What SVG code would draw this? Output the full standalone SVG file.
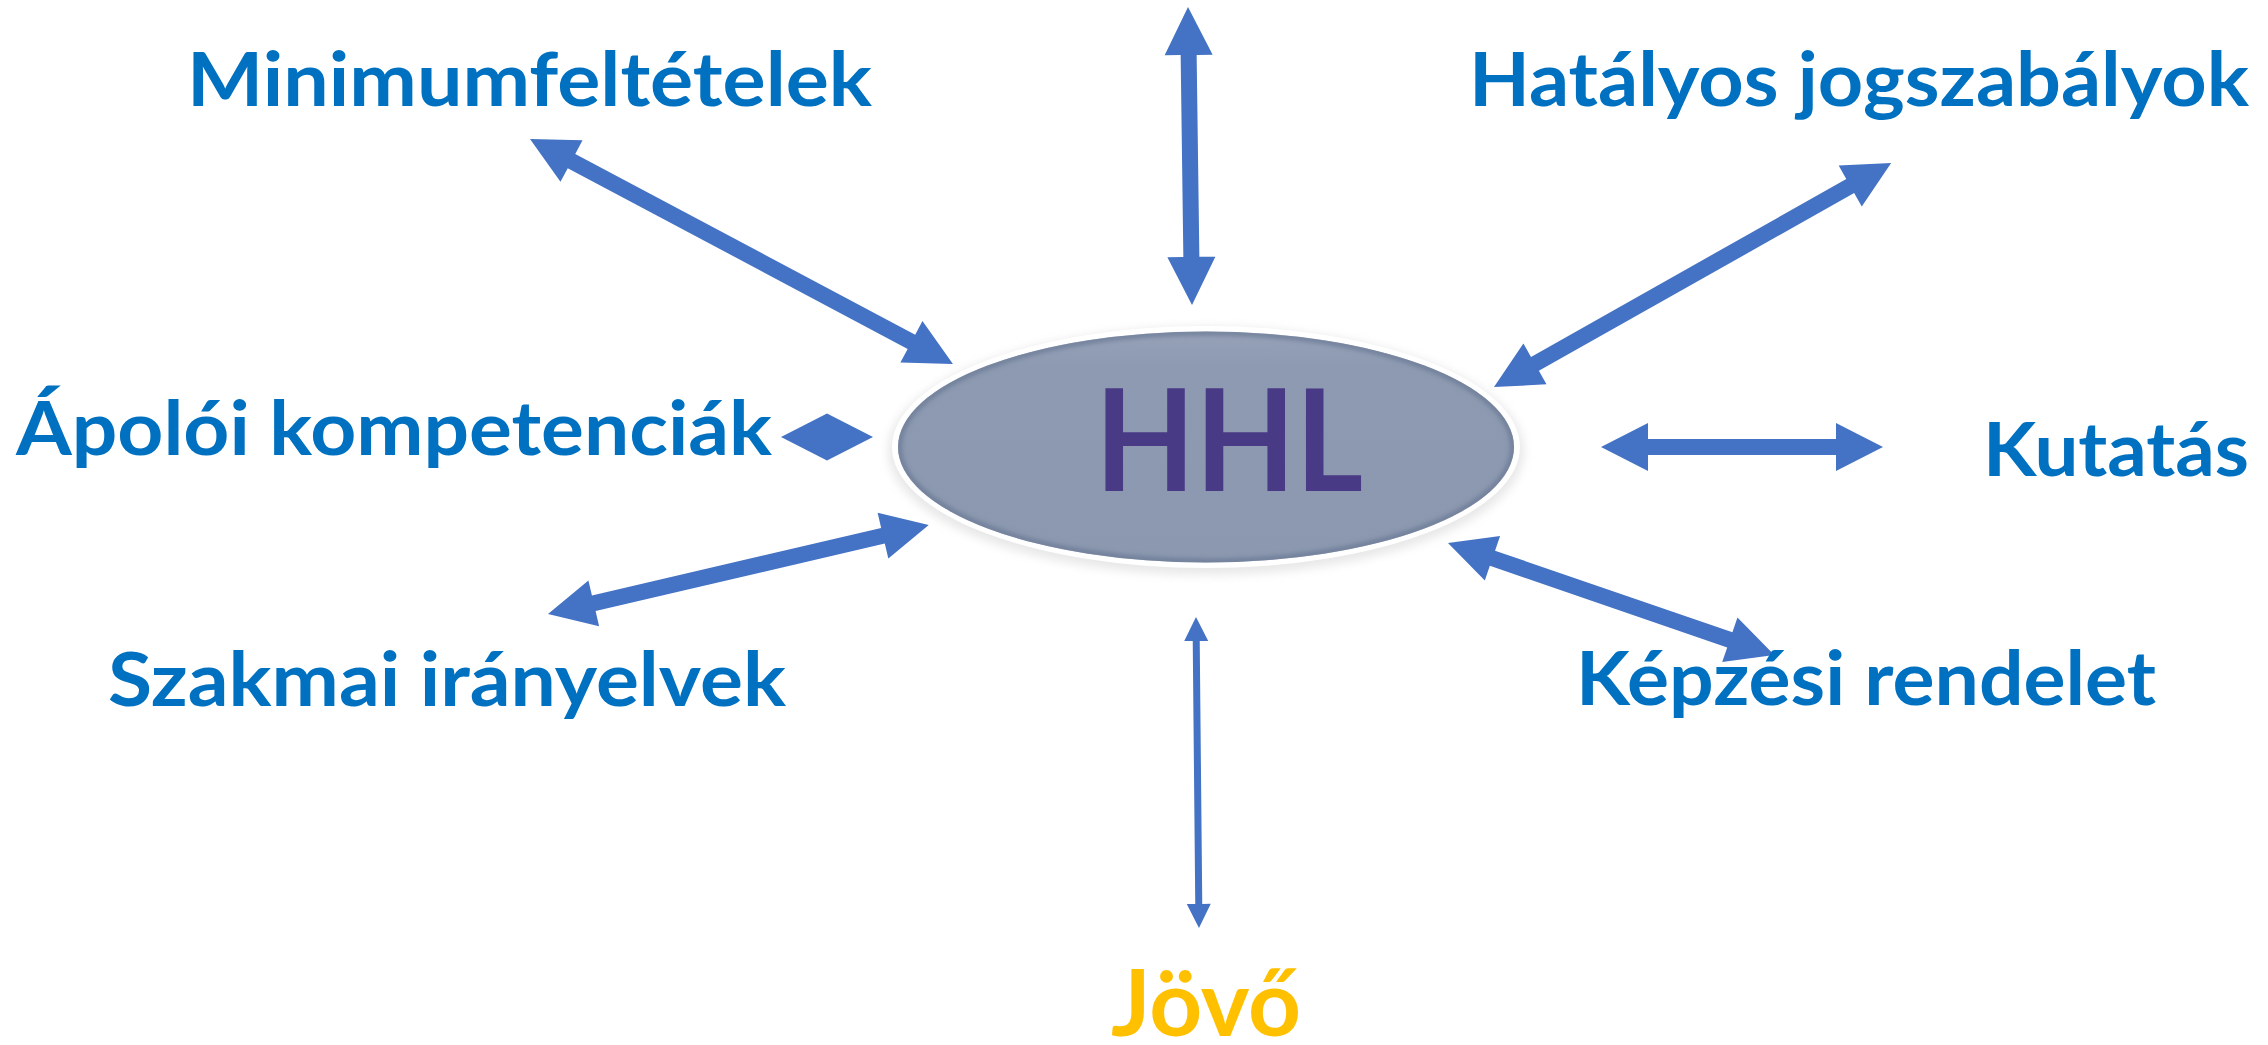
<svg xmlns="http://www.w3.org/2000/svg" width="2268" height="1045" viewBox="0 0 2268 1045">
  <style>
    .lbl { font-family: "Lato", "Liberation Sans", sans-serif; font-weight: bold; font-size: 74px; fill: #0070c0; }
    .arrow { fill: #4472c4; }
  </style>
  <defs>
    <filter id="soft" x="-10%" y="-20%" width="120%" height="140%">
      <feGaussianBlur stdDeviation="5"/>
    </filter>
    <filter id="edge" x="-10%" y="-20%" width="120%" height="140%">
      <feGaussianBlur stdDeviation="2.5"/>
    </filter>
    <clipPath id="inner">
      <ellipse cx="1206" cy="447" rx="308" ry="115.5"/>
    </clipPath>
    <linearGradient id="fillg" x1="0" y1="0" x2="0" y2="1">
      <stop offset="0" stop-color="#97a2b8"/>
      <stop offset="0.15" stop-color="#8d9ab1"/>
      <stop offset="1" stop-color="#8b98af"/>
    </linearGradient>
  </defs>

  <rect width="2268" height="1045" fill="#ffffff"/>

  <g id="connectors">
    <polygon class="arrow" transform="translate(530,139) rotate(28.0)" points="0,0 47,-23.5 47,-8 432,-8 432,-23.5 479,0 432,23.5 432,8 47,8 47,23.5"/>
    <polygon class="arrow" transform="translate(1188,7) rotate(89.23)" points="0,0 48,-24 48,-8 250,-8 250,-24 298,0 250,24 250,8 48,8 48,24"/>
    <polygon class="arrow" transform="translate(1494,387) rotate(-29.43)" points="0,0 47,-23.5 47,-8 409,-8 409,-23.5 456,0 409,23.5 409,8 47,8 47,23.5"/>
    <polygon class="arrow" transform="translate(781,437)" points="0,0 46,-23.5 92,0 46,23.5"/>
    <polygon class="arrow" transform="translate(1601,447)" points="0,0 47,-24 47,-8 235,-8 235,-24 282,0 235,24 235,8 47,8 47,24"/>
    <polygon class="arrow" transform="translate(548,614) rotate(-13.15)" points="0,0 47,-23.5 47,-8 344,-8 344,-23.5 391,0 344,23.5 344,8 47,8 47,23.5"/>
    <polygon class="arrow" transform="translate(1448,543) rotate(18.96)" points="0,0 47,-23.5 47,-8 298,-8 298,-23.5 345,0 298,23.5 298,8 47,8 47,23.5"/>
    <polygon class="arrow" transform="translate(1196,617) rotate(89.45)" points="0,0 24,-12 24,-3.5 287,-3.5 287,-12 311,0 287,12 287,3.5 24,3.5 24,12"/>
  </g>

  <g id="node-hhl">
    <ellipse cx="1206" cy="451" rx="318" ry="124" fill="#d9d9d9" opacity="0.6" filter="url(#soft)"/>
    <ellipse cx="1206" cy="447" rx="314" ry="121" fill="#ffffff"/>
    <ellipse cx="1206" cy="447" rx="308" ry="115.5" fill="url(#fillg)"/>
    <g clip-path="url(#inner)">
      <ellipse cx="1206" cy="447" rx="307" ry="114.5" fill="none" stroke="#6c7a96" stroke-width="5" filter="url(#edge)"/>
    </g>
    <text x="1095" y="491" font-family="Lato, 'Liberation Sans', sans-serif" font-weight="bold" font-size="142" fill="#483a85" textLength="268" lengthAdjust="spacingAndGlyphs">HHL</text>
  </g>

  <g id="node-minimum">
    <text class="lbl" x="187" y="106" textLength="685" lengthAdjust="spacingAndGlyphs">Minimumfeltételek</text>
  </g>
  <g id="node-hatalyos">
    <text class="lbl" x="1469" y="106" textLength="780" lengthAdjust="spacingAndGlyphs">Hatályos jogszabályok</text>
  </g>
  <g id="node-apoloi">
    <text class="lbl" x="16" y="455" textLength="756" lengthAdjust="spacingAndGlyphs">Ápolói kompetenciák</text>
  </g>
  <g id="node-kutatas">
    <text class="lbl" x="1983" y="476" textLength="266" lengthAdjust="spacingAndGlyphs">Kutatás</text>
  </g>
  <g id="node-szakmai">
    <text class="lbl" x="108" y="706" textLength="678" lengthAdjust="spacingAndGlyphs">Szakmai irányelvek</text>
  </g>
  <g id="node-kepzesi">
    <text class="lbl" x="1576" y="705" textLength="580" lengthAdjust="spacingAndGlyphs">Képzési rendelet</text>
  </g>
  <g id="node-jovo">
    <text x="1111" y="1036" font-family="Lato, 'Liberation Sans', sans-serif" font-weight="bold" font-size="91" fill="#ffc000" textLength="190" lengthAdjust="spacingAndGlyphs">Jövő</text>
  </g>
</svg>
